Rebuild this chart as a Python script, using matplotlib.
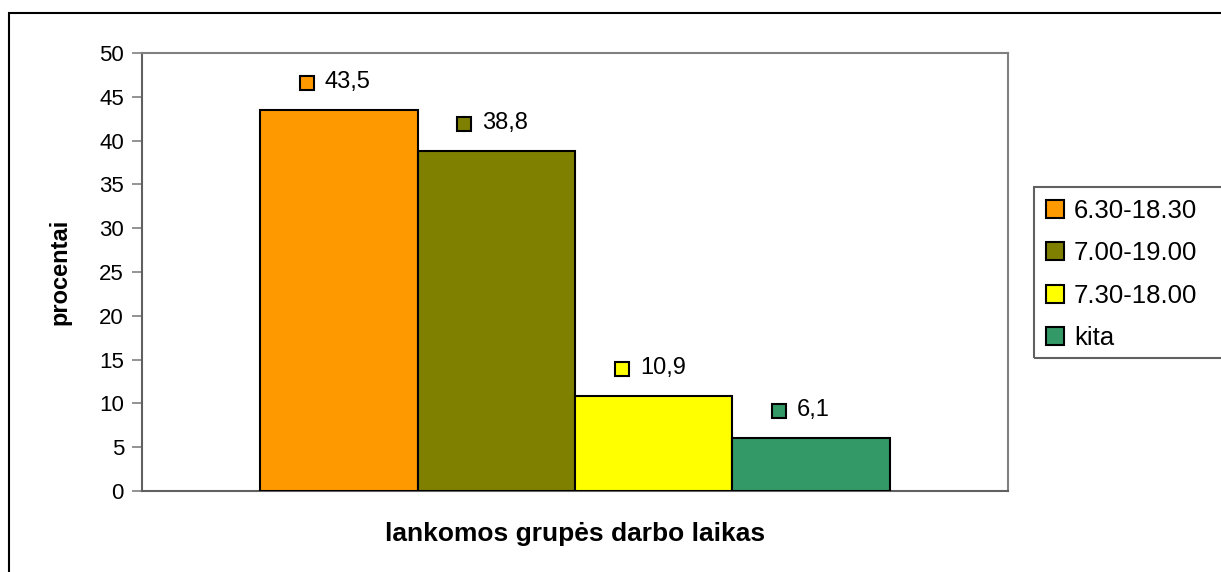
import matplotlib.pyplot as plt
from matplotlib.patches import Patch, Rectangle
from matplotlib.transforms import offset_copy

plt.rcParams['font.family'] = ['Liberation Sans', 'DejaVu Sans']

# duomenys
categories = ["6.30-18.30", "7.00-19.00", "7.30-18.00", "kita"]
values = [43.5, 38.8, 10.9, 6.1]
value_labels = ["43,5", "38,8", "10,9", "6,1"]
colors = ["#FF9900", "#808000", "#FFFF00", "#339966"]
yticks = [0, 5, 10, 15, 20, 25, 30, 35, 40, 45, 50]

fig = plt.figure(figsize=(12.21, 5.72), dpi=100)
ax = fig.add_axes([0.1163, 0.1416, 0.7093, 0.7657])

xpos = range(len(values))
ax.bar(xpos, values, width=1.0, color=colors, edgecolor="black", linewidth=1.5, zorder=3)

ax.set_xlim(-1.25, 4.25)
ax.set_ylim(0, 50)
ax.set_yticks(yticks)
ax.set_xticks([])
ax.tick_params(axis="y", direction="out", length=7, width=1.2, color="#808080",
               labelsize=16, pad=6)

for side in ["top", "right"]:
    ax.spines[side].set_color("#808080")
    ax.spines[side].set_linewidth(1.5)
for side in ["left", "bottom"]:
    ax.spines[side].set_color("#606060")
    ax.spines[side].set_linewidth(1.5)

ax.set_ylabel("procentai", fontsize=17, fontweight="bold", labelpad=20)
ax.set_xlabel("lankomos grupės darbo laikas", fontsize=19, fontweight="bold", labelpad=22)

# reikšmių žymės su spalvotu kvadratu
for x, v, lab, c in zip(xpos, values, value_labels, colors):
    tr_sq = offset_copy(ax.transData, fig=fig, x=-32, y=27, units="dots")
    ax.plot([x], [v], marker="s", markersize=10, markerfacecolor=c,
            markeredgecolor="black", markeredgewidth=1.5, transform=tr_sq,
            clip_on=False, zorder=4)
    tr_tx = offset_copy(ax.transData, fig=fig, x=-14, y=28, units="dots")
    ax.text(x, v, lab, transform=tr_tx, fontsize=17, ha="left", va="center", zorder=4)

handles = [Patch(facecolor=c, edgecolor="black", linewidth=1.5) for c in colors]
leg = fig.legend(handles, categories, loc="upper left", bbox_to_anchor=(0.847, 0.673),
                 fontsize=18.5, frameon=False, handlelength=0.7,
                 handleheight=0.7, handletextpad=0.4, labelspacing=0.72,
                 borderpad=0.45, borderaxespad=0)

# legendos rėmelis išeina už paveikslo krašto
fig.patches.append(Rectangle((1034 / 1221, 1 - 358 / 572), 0.3, (358 - 187) / 572,
                             transform=fig.transFigure, fill=False,
                             edgecolor="#606060", linewidth=1.5))

# diagramos rėmelis
fig.patches.append(Rectangle((9 / 1221, -0.2), 1.2, 1.2 - 13 / 572,
                             transform=fig.transFigure, fill=False,
                             edgecolor="black", linewidth=1.5))

fig.savefig("out.png", dpi=100)
